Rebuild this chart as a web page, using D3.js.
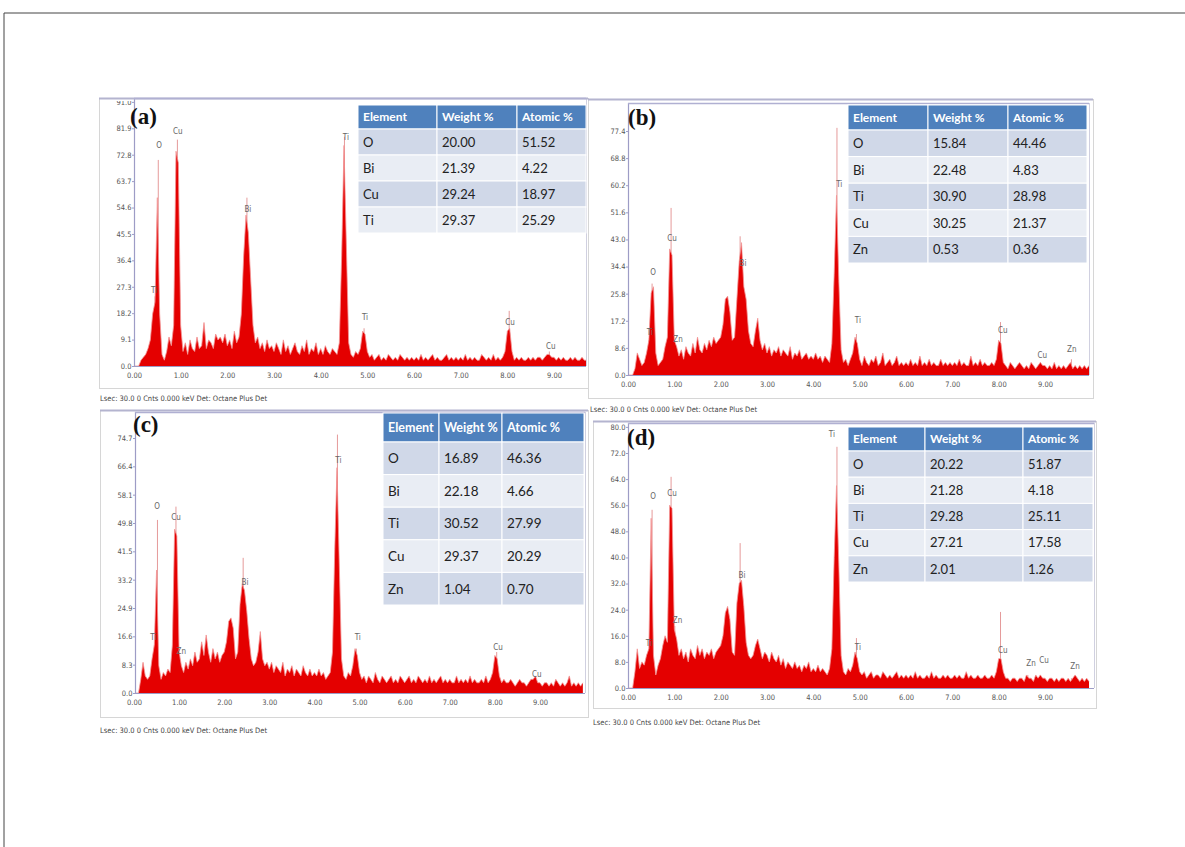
<!DOCTYPE html>
<html><head><meta charset="utf-8">
<script src="https://cdn.jsdelivr.net/npm/d3@7"></script>
<style>body{margin:0;background:#fff;} svg{display:block}</style>
</head><body><svg id="c" width="1185" height="847"></svg>
<script>
// ---------- DATA ----------
const energyStep = 0.05; // keV per channel shown (channel i => i*0.05 keV)
const xTicks = [0,1,2,3,4,5,6,7,8,9];
const yTicksA = [0.0,9.1,18.2,27.3,36.4,45.5,54.6,63.7,72.8,81.9,91.0];
const yTicksB = [0.0,8.6,17.2,25.8,34.4,43.0,51.6,60.2,68.8,77.4];
const yTicksC = [0.0,8.3,16.6,24.9,33.2,41.5,49.8,58.1,66.4,74.7];
const yTicksD = [0.0,8.0,16.0,24.0,32.0,40.0,48.0,56.0,64.0,72.0,80.0];

const specA = [
 0,0,0,2,3,4,6,9,18,22,58,18,4,2,5,10,7,14,74,70,
 14,5,8,4,9,6,5,10,6,7,15,6,9,8,6,11,9,10,8,11,
 7,9,6,12,8,10,18,38,52,46,30,14,8,10,6,8,5,9,6,7,
 5,8,6,4,9,5,7,4,6,8,5,4,7,5,9,4,6,5,8,4,
 6,4,7,5,4,6,5,4,8,38,76,42,8,4,3,5,4,6,12,11,
 5,3,4,2,3,4,2,3,2,4,3,2,3,2,4,3,2,3,2,3,
 2,3,2,4,2,3,2,3,4,2,3,2,2,3,4,2,3,2,3,2,
 3,2,4,2,3,2,3,2,2,4,3,2,3,2,4,2,3,2,3,5,
 12,13,5,2,3,2,3,2,2,3,2,3,2,3,3,2,3,4,4,3,
 3,2,3,2,3,2,2,3,2,3,2,2,3,2,2,3,2,2,3,2
];
const specB = [
 0,0,0,2,7,5,3,4,7,11,26,28,7,3,4,5,9,12,40,38,
 11,9,6,8,5,9,7,6,10,7,12,8,7,10,8,11,9,12,10,11,
 12,16,24,25,20,11,12,24,36,42,28,24,14,10,9,14,18,11,8,10,
 7,9,6,8,7,9,6,8,7,6,9,5,7,6,8,5,6,7,5,6,
 5,7,5,6,4,6,5,4,10,32,57,30,8,4,5,3,5,7,12,10,
 5,3,6,4,3,5,4,6,3,4,7,3,4,5,3,4,6,3,4,3,
 4,3,5,3,4,3,6,3,4,3,5,3,4,3,3,5,3,4,3,4,
 3,4,3,5,3,4,3,3,6,3,4,3,5,3,4,3,3,4,3,5,
 11,10,4,3,2,4,3,2,3,4,3,2,3,2,4,3,2,3,4,3,
 3,2,3,2,4,2,3,2,3,2,3,4,2,3,2,3,2,3,2,3
];
const specC = [
 0,0,0,4,9,5,4,5,10,14,36,8,4,6,5,7,6,14,48,46,
 12,8,6,9,7,10,8,12,9,10,15,11,17,12,9,13,10,12,9,11,
 12,15,21,22,19,10,12,26,32,30,24,16,10,8,9,12,18,10,8,9,
 7,9,6,8,7,6,9,5,7,6,8,5,7,6,5,8,6,5,7,5,
 6,5,7,5,6,4,5,6,12,42,66,38,10,5,4,6,5,8,13,11,
 6,4,5,3,5,4,3,6,4,3,5,4,3,4,5,3,4,3,5,4,
 3,4,5,3,4,3,5,4,3,4,3,5,3,4,3,4,5,3,4,3,
 4,3,3,5,3,4,3,4,3,5,3,4,3,3,4,3,5,3,4,6,
 11,10,5,3,4,3,3,4,3,2,3,4,3,3,2,3,4,4,5,3,
 3,2,3,3,2,3,2,4,3,2,3,2,3,5,2,3,2,3,2,3
];
const specD = [
 0,0,0,5,12,6,8,7,10,12,52,10,4,7,9,13,16,14,56,55,
 18,15,10,12,9,11,8,12,10,9,13,10,12,9,11,10,12,9,11,12,
 13,16,23,25,21,11,10,26,32,33,25,14,10,9,10,13,15,12,9,11,
 10,8,11,9,8,10,7,9,6,8,7,6,8,6,7,5,7,6,8,5,
 6,5,7,5,6,5,4,6,12,40,62,38,10,5,4,6,5,7,11,9,
 5,4,5,3,4,5,3,4,4,3,5,4,3,4,3,4,5,3,4,3,
 4,3,4,3,5,3,4,3,3,4,3,5,3,4,3,3,4,3,4,3,
 3,4,3,4,3,3,5,3,4,3,3,4,3,3,4,3,3,4,3,5,
 9,9,5,3,3,2,3,3,2,3,3,2,4,3,3,2,4,3,4,3,
 3,2,3,3,2,3,2,3,3,2,3,2,3,4,3,2,3,2,3,2
];

// peak markers: [element, line energy keV, line top counts, label keV, label counts]
const marksA = [["Ti",0.45,24,0.43,25],["O",0.52,71,0.54,75],["Cu",0.93,78,0.94,80],["Bi",2.42,58,2.44,53],
  ["Ti",4.51,79,4.54,78],["Ti",4.93,13,4.95,16],["Cu",8.04,19,8.06,14],["Cu",8.90,5,8.93,6]];
const marksB = [["Ti",0.45,11,0.47,12.7],["O",0.52,29,0.54,31.7],["Cu",0.93,53,0.95,42.5],["Zn",1.01,10,1.08,10.5],
  ["Bi",2.42,44,2.48,34.6],["Ti",4.51,78.4,4.56,59.7],["Ti",4.93,13,4.96,16.5],["Cu",8.04,16.8,8.09,13.3],
  ["Cu",8.90,4,8.94,5.4],["Zn",9.57,5,9.58,7.3]];
const marksC = [["Ti",0.45,14,0.43,15.5],["O",0.52,50.7,0.51,54],["Cu",0.93,54.6,0.93,50.7],["Zn",1.01,11,1.05,11.4],
  ["Bi",2.42,39.6,2.46,31.7],["Ti",4.51,75.7,4.53,67.4],["Ti",4.93,13,4.96,15.5],["Cu",8.04,12,8.07,12.6],
  ["Cu",8.90,4,8.93,4.7]];
const marksD = [["Ti",0.45,12,0.45,12.9],["O",0.52,54.6,0.54,57.9],["Cu",0.93,64.7,0.95,58.9],["Zn",1.01,19,1.07,19.9],
  ["Bi",2.42,44.4,2.46,33.7],["Ti",4.51,73.9,4.40,77],["Ti",4.93,15.3,4.96,11.6],["Cu",8.04,23.3,8.09,10.7],
  ["Zn",8.63,4,8.70,6.7],["Cu",8.90,4,8.98,7.7],["Zn",9.57,3,9.65,5.8]];

const tableHeader = ["Element","Weight %","Atomic %"];
const tableA = [["O","20.00","51.52"],["Bi","21.39","4.22"],["Cu","29.24","18.97"],["Ti","29.37","25.29"]];
const tableB = [["O","15.84","44.46"],["Bi","22.48","4.83"],["Ti","30.90","28.98"],["Cu","30.25","21.37"],["Zn","0.53","0.36"]];
const tableC = [["O","16.89","46.36"],["Bi","22.18","4.66"],["Ti","30.52","27.99"],["Cu","29.37","20.29"],["Zn","1.04","0.70"]];
const tableD = [["O","20.22","51.87"],["Bi","21.28","4.18"],["Ti","29.28","25.11"],["Cu","27.21","17.58"],["Zn","2.01","1.26"]];

const panelLabels = ["(a)","(b)","(c)","(d)"];
const captionText = "Lsec: 30.0 0 Cnts  0.000 keV Det: Octane Plus Det";

// ---------- LAYOUT ----------
const layouts = [
 {spec:specA, marks:marksA, table:tableA, yTicks:yTicksA, xr:[134,554], yd:81.9, yr:[366,128.3],
  plot:[134,98,586,366], box:[99,98,588,388], cap:[100,401], lab:[130,124],
  cols:[358,437,517,586], ty:105, hh:24, rh:26, fs:13, hfs:12},
 {spec:specB, marks:marksB, table:tableB, yTicks:yTicksB, xr:[628,1045], yd:77.4, yr:[375,131],
  plot:[628,103,1089,375], box:[588,99,1093,398], cap:[590,412], lab:[628,125],
  cols:[848,928,1008,1087], ty:105, hh:25, rh:26.6, fs:13, hfs:12},
 {spec:specC, marks:marksC, table:tableC, yTicks:yTicksC, xr:[134,540], yd:74.7, yr:[693,438],
  plot:[135,412,585,693], box:[100,410,588,717], cap:[100,733], lab:[133,432],
  cols:[383,439,502,584], ty:413, hh:29, rh:32.6, fs:13.5, hfs:12.5},
 {spec:specD, marks:marksD, table:tableD, yTicks:yTicksD, xr:[628,1045], yd:72.0, yr:[688,453],
  plot:[628,423,1094,688], box:[593,421,1096,708], cap:[593,725], lab:[627,445],
  cols:[848,925,1023,1093], ty:427, hh:24, rh:26.2, fs:13, hfs:12}
];

const svg = d3.select("#c");
const smallFont = "'Liberation Sans Narrow','Arial Narrow','DejaVu Sans Condensed',sans-serif";
const tableFont = "Lato,'Open Sans',sans-serif";

// page frame
svg.append("path").attr("d","M4,847 V13 H1185").attr("fill","none").attr("stroke","#444").attr("stroke-width",1);

layouts.forEach((L,pi)=>{
  const g = svg.append("g");
  const x = d3.scaleLinear().domain([0,9]).range(L.xr);
  const y = d3.scaleLinear().domain([0,L.yd]).range(L.yr);
  const [px0,pyT,px1,py0] = L.plot;
  const [bx0,by0,bx1,by1] = L.box;

  // outer box
  g.append("rect").attr("x",bx0+0.5).attr("y",by0+0.5).attr("width",bx1-bx0).attr("height",by1-by0)
    .attr("fill","#fff").attr("stroke","#d6d6d6").attr("stroke-width",1);

  const clipId = "clip"+pi;
  svg.append("clipPath").attr("id",clipId).append("rect")
    .attr("x",px0).attr("y",pyT).attr("width",px1-px0).attr("height",py0-pyT);
  const clipT = "clipt"+pi;
  svg.append("clipPath").attr("id",clipT).append("rect")
    .attr("x",bx0).attr("y",by0+3).attr("width",bx1-bx0).attr("height",by1-by0);

  // spectrum
  const pts = L.spec.map((v,i)=>[i*energyStep, v]);
  const area = d3.area().x(d=>x(d[0])).y0(y(0)).y1(d=>y(d[1]));
  const line = d3.line().x(d=>x(d[0])).y(d=>y(d[1]));
  const sg = g.append("g").attr("clip-path",`url(#${clipId})`);

  // marker lines
  sg.selectAll("line.mk").data(L.marks).join("line").attr("class","mk")
    .attr("x1",d=>x(d[1])).attr("x2",d=>x(d[1])).attr("y1",y(0)).attr("y2",d=>y(d[2]))
    .attr("stroke","#e59a9a").attr("stroke-width",1);

  sg.append("path").datum(pts).attr("d",area).attr("fill","#e40000");
  sg.append("path").datum(pts).attr("d",line).attr("fill","none").attr("stroke","#f29595").attr("stroke-width",0.8);

  // plot frame
  g.append("path").attr("d",`M${px0+0.5},${pyT} V${py0+0.5} H${px1}`).attr("fill","none")
    .attr("stroke","#9d9cc6").attr("stroke-width",1.2);
  g.append("line").attr("x1",px1+0.5).attr("x2",px1+0.5).attr("y1",pyT).attr("y2",py0)
    .attr("stroke","#d0d0e0").attr("stroke-width",1);

  // y tick labels
  const yAxis = d3.axisLeft(y).tickValues(L.yTicks).tickSize(2).tickFormat(d3.format(".1f"));
  const ya = g.append("g").attr("clip-path",`url(#${clipT})`)
    .append("g").attr("transform",`translate(${px0},0)`).call(yAxis);
  ya.select(".domain").remove();
  ya.selectAll("line").attr("stroke","#9d9cc6");
  ya.selectAll("text").attr("font-family",smallFont).attr("font-size",7.5).attr("fill","#555").attr("x",-2.5);

  // top border lines
  g.append("line").attr("x1",bx0).attr("x2",bx1).attr("y1",by0+0.5).attr("y2",by0+0.5)
    .attr("stroke","#b4b4cf").attr("stroke-width",2);
  g.append("line").attr("x1",px0).attr("x2",px1).attr("y1",pyT+0.5).attr("y2",pyT+0.5)
    .attr("stroke","#b0b0d2").attr("stroke-width",1.5);

  // x tick labels
  const xAxis = d3.axisBottom(x).tickValues(xTicks).tickSize(0).tickFormat(d3.format(".2f"));
  const xa = g.append("g").attr("transform",`translate(0,${py0})`).call(xAxis);
  xa.select(".domain").remove();
  xa.selectAll("text").attr("font-family",smallFont).attr("font-size",7.5).attr("fill","#555").attr("y",7);

  // element labels
  g.selectAll("text.el").data(L.marks).join("text").attr("class","el")
    .attr("x",d=>x(d[3])).attr("y",d=>y(d[4])).attr("text-anchor","middle")
    .attr("font-family",smallFont).attr("font-size",8).attr("fill","#666").text(d=>d[0]);

  // caption
  g.append("text").attr("x",L.cap[0]).attr("y",L.cap[1]).attr("font-family",smallFont)
    .attr("font-size",7.5).attr("fill","#444").text(captionText);

  // panel label
  g.append("text").attr("x",L.lab[0]).attr("y",L.lab[1]).attr("font-family","'Liberation Serif','Times New Roman',serif")
    .attr("font-weight","bold").attr("font-size",23).attr("fill","#111").text(panelLabels[pi]);

  // table
  const tg = g.append("g");
  const c = L.cols;
  const rows = [tableHeader].concat(L.table);
  rows.forEach((r,ri)=>{
    const ry = ri===0 ? L.ty : L.ty + L.hh + (ri-1)*L.rh;
    const rhh = ri===0 ? L.hh : L.rh;
    const fill = ri===0 ? "#4f81bd" : (ri%2===1 ? "#d0d8e8" : "#e9edf4");
    for(let ci=0; ci<3; ci++){
      tg.append("rect").attr("x",c[ci]).attr("y",ry).attr("width",c[ci+1]-c[ci]).attr("height",rhh)
        .attr("fill",fill).attr("stroke","#fff").attr("stroke-width",1);
      tg.append("text").attr("x",c[ci]+5).attr("y",ry+rhh/2).attr("dy","0.36em")
        .attr("font-family",tableFont).attr("font-size",ri===0?L.hfs:L.fs)
        .attr("font-weight",ri===0?"bold":"normal")
        .attr("fill",ri===0?"#fff":"#222").text(r[ci]);
    }
  });
});
</script>
</body></html>
